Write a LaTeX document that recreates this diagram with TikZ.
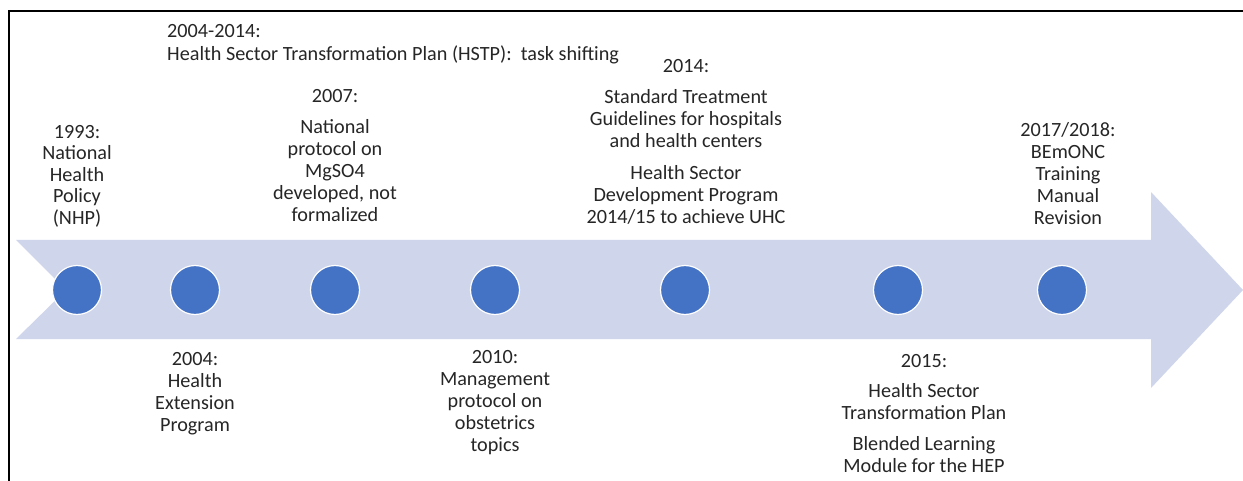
\documentclass[tikz,border=0pt]{standalone}
\usepackage{fontspec}
\setmainfont{Carlito}
\definecolor{band}{HTML}{CFD5EA}
\definecolor{dotblue}{HTML}{4472C4}
\definecolor{txt}{HTML}{262626}
\tikzset{
  lbl/.style={align=center, inner sep=0pt, anchor=north, font=\fontsize{20.2}{22}\selectfont, text=txt},
  dot/.style={circle, fill=dotblue, draw=white, line width=1.2pt, minimum size=49pt, inner sep=0pt},
  frameline/.style={draw=black, line width=2pt}
}
\begin{document}
\begin{tikzpicture}[x=1pt,y=-1pt]
\useasboundingbox[fill=white] (0,0) rectangle (1243,481);
% frame
\draw[frameline] (9,481) -- (9,11) -- (1243,11);
% arrow band
\fill[band] (16,240) -- (1151,240) -- (1151,192) -- (1243,290) -- (1151,388) -- (1151,339) -- (16,339) -- (66,290) -- cycle;
% dots
\node[dot] (d1) at (77,290) {};
\node[dot] (d2) at (195,290) {};
\node[dot] (d3) at (335,290) {};
\node[dot] (d4) at (495,290) {};
\node[dot] (d5) at (685,290) {};
\node[dot] (d6) at (898,290) {};
\node[dot] (d7) at (1062,290) {};
% labels above
\node[lbl, align=left, anchor=north west] (t0) at (167,24) {2004-2014:\\[1pt]Health Sector Transformation Plan (HSTP):\ \ task shifting};
\node[lbl] (t1) at (77,125) {1993:\\[-0.5pt]National\\[-0.5pt]Health\\[-0.5pt]Policy\\[-0.5pt](NHP)};
\node[lbl] (t3) at (335,89) {2007:\\[9pt]National\\protocol on\\MgSO4\\developed, not\\formalized};
\node[lbl] (t5) at (686,59) {2014:\\[9pt]Standard Treatment\\Guidelines for hospitals\\and health centers\\[10pt]Health Sector\\Development Program\\2014/15 to achieve UHC};
\node[lbl] (t7) at (1068,122) {2017/2018:\\BEmONC\\Training\\Manual\\Revision};
% labels below
\node[lbl] (t2) at (195,352) {2004:\\Health\\Extension\\Program};
\node[lbl] (t4) at (495,350) {2010:\\Management\\protocol on\\obstetrics\\topics};
\node[lbl] (t6) at (924,354) {2015:\\[8pt]Health Sector\\Transformation Plan\\[9pt]Blended Learning\\Module for the HEP};
\end{tikzpicture}
\end{document}
